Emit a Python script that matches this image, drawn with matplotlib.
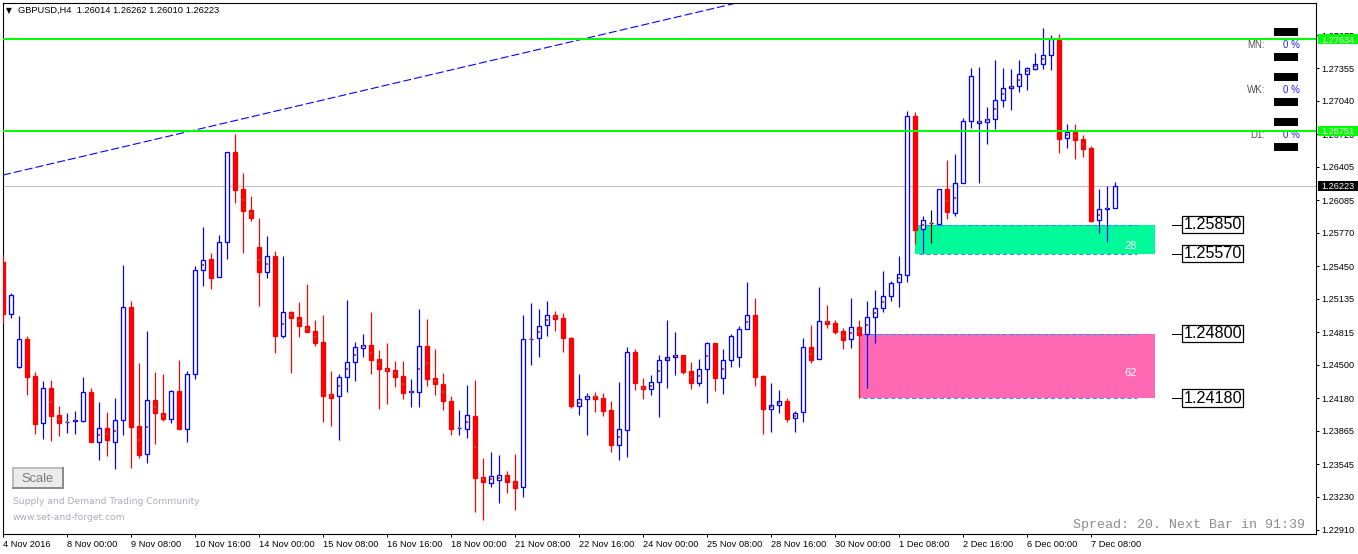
import numpy as np
import matplotlib
matplotlib.use("Agg")
import matplotlib.pyplot as plt
from matplotlib.patches import Rectangle
from matplotlib.transforms import blended_transform_factory

plt.rcParams['font.family'] = ['Liberation Sans', 'DejaVu Sans']
plt.rcParams['lines.scale_dashes'] = False

# GBPUSD H4 bars, 4 Nov 2016 16:00 .. 7 Dec 2016 16:00
opens = [1.25490, 1.24989, 1.24479, 1.24748, 1.24392, 1.23940, 1.24277, 1.24017, 1.23945, 1.23959,
         1.23959, 1.24238, 1.23757, 1.23892, 1.23757, 1.23969, 1.25057, 1.23911, 1.23641, 1.24161,
         1.24036, 1.23978, 1.24248, 1.23882, 1.24412, 1.25413, 1.25519, 1.25345, 1.25682, 1.26549,
         1.26192, 1.25990, 1.25634, 1.25393, 1.25547, 1.24777, 1.25008, 1.24960, 1.24874, 1.24825,
         1.24720, 1.24219, 1.24200, 1.24383, 1.24527, 1.24665, 1.24691, 1.24556, 1.24469, 1.24450,
         1.24392, 1.24238, 1.24238, 1.24681, 1.24373, 1.24315, 1.24152, 1.23887, 1.23882, 1.24007,
         1.23420, 1.23362, 1.23391, 1.23439, 1.23382, 1.23324, 1.24748, 1.24758, 1.24883, 1.24979,
         1.24951, 1.24758, 1.24103, 1.24171, 1.24200, 1.24180, 1.24065, 1.23728, 1.23872, 1.24623,
         1.24296, 1.24267, 1.24334, 1.24546, 1.24575, 1.24594, 1.24440, 1.24325, 1.24460, 1.24710,
         1.24373, 1.24546, 1.24575, 1.24845, 1.24979, 1.24392, 1.24075, 1.24113, 1.24152, 1.23988,
         1.24046, 1.24671, 1.24556, 1.24922, 1.24902, 1.24825, 1.24748, 1.24864, 1.24797, 1.24960,
         1.25047, 1.25162, 1.25297, 1.25365, 1.26895, 1.25807, 1.25865, 1.25856, 1.26192, 1.25961,
         1.26250, 1.26847, 1.26829, 1.26838, 1.26866, 1.27050, 1.27165, 1.27184, 1.27300, 1.27348,
         1.27396, 1.27483, 1.27627, 1.26683, 1.26741, 1.26674, 1.26587, 1.25894, 1.26000, 1.26014]
highs = [1.25557, 1.25191, 1.24970, 1.24777, 1.24431, 1.24344, 1.24354, 1.24103, 1.24036, 1.24055,
         1.24383, 1.24277, 1.24142, 1.24046, 1.24180, 1.25461, 1.25114, 1.24517, 1.24825, 1.24431,
         1.24412, 1.24257, 1.24546, 1.24440, 1.25451, 1.25827, 1.25576, 1.25750, 1.26549, 1.26722,
         1.26347, 1.26125, 1.25913, 1.25740, 1.25596, 1.25547, 1.25018, 1.25105, 1.25278, 1.24931,
         1.24979, 1.24440, 1.24412, 1.25124, 1.24720, 1.24797, 1.25008, 1.24643, 1.24710, 1.24537,
         1.24537, 1.24363, 1.25037, 1.24941, 1.24652, 1.24421, 1.24200, 1.24065, 1.24306, 1.24354,
         1.23603, 1.23661, 1.23632, 1.23478, 1.23641, 1.24979, 1.25095, 1.25037, 1.25114, 1.25018,
         1.24999, 1.24768, 1.24412, 1.24229, 1.24238, 1.24229, 1.24152, 1.24334, 1.24671, 1.24652,
         1.24373, 1.24402, 1.24594, 1.24931, 1.24816, 1.24594, 1.24527, 1.24556, 1.24720, 1.24710,
         1.24652, 1.24797, 1.24874, 1.25297, 1.25143, 1.24402, 1.24325, 1.24257, 1.24180, 1.24055,
         1.24758, 1.24883, 1.25249, 1.25076, 1.24931, 1.24854, 1.25143, 1.24931, 1.25114, 1.25220,
         1.25403, 1.25307, 1.25547, 1.26943, 1.26934, 1.25933, 1.25990, 1.26192, 1.26472, 1.26529,
         1.26876, 1.27357, 1.27367, 1.26982, 1.27434, 1.27357, 1.27348, 1.27434, 1.27367, 1.27502,
         1.27742, 1.27675, 1.27685, 1.26818, 1.26818, 1.26712, 1.26606, 1.26192, 1.26221, 1.26262]
lows = [1.24902, 1.24951, 1.24469, 1.24209, 1.23834, 1.23786, 1.23766, 1.23815, 1.23844, 1.23834,
        1.23949, 1.23757, 1.23584, 1.23622, 1.23497, 1.23824, 1.23507, 1.23603, 1.23555, 1.23738,
        1.23959, 1.23940, 1.23882, 1.23757, 1.24363, 1.25259, 1.25230, 1.25345, 1.25519, 1.26058,
        1.25576, 1.25884, 1.25066, 1.25336, 1.24614, 1.24758, 1.24421, 1.24768, 1.24816, 1.24681,
        1.23949, 1.23911, 1.23776, 1.24238, 1.24344, 1.24575, 1.24412, 1.24075, 1.24123, 1.24286,
        1.24171, 1.24094, 1.24094, 1.24296, 1.24209, 1.24065, 1.23824, 1.23824, 1.23795, 1.23083,
        1.23006, 1.23324, 1.23170, 1.23266, 1.23102, 1.23227, 1.24498, 1.24575, 1.24777, 1.24825,
        1.24623, 1.24084, 1.24017, 1.23824, 1.24046, 1.24007, 1.23661, 1.23584, 1.23612, 1.24257,
        1.24171, 1.24209, 1.23998, 1.24277, 1.24402, 1.24412, 1.24267, 1.24296, 1.24132, 1.24248,
        1.24219, 1.24479, 1.24479, 1.24845, 1.24296, 1.23834, 1.23853, 1.24036, 1.23949, 1.23853,
        1.23949, 1.24517, 1.24556, 1.24854, 1.24797, 1.24652, 1.24662, 1.24180, 1.24277, 1.24710,
        1.25008, 1.25114, 1.25057, 1.25297, 1.25663, 1.25576, 1.25673, 1.25850, 1.25904, 1.25933,
        1.26250, 1.26780, 1.26250, 1.26626, 1.26770, 1.26982, 1.26953, 1.27126, 1.27146, 1.27338,
        1.27348, 1.27338, 1.26539, 1.26587, 1.26481, 1.26501, 1.25875, 1.25769, 1.25682, 1.26010]
closes = [1.24989, 1.25172, 1.24748, 1.24383, 1.23930, 1.24277, 1.24007, 1.23940, 1.23954, 1.23969,
          1.24238, 1.23757, 1.23892, 1.23776, 1.23969, 1.25057, 1.23901, 1.23632, 1.24161, 1.24036,
          1.23978, 1.24248, 1.23882, 1.24412, 1.25413, 1.25509, 1.25336, 1.25682, 1.26549, 1.26183,
          1.25981, 1.25913, 1.25393, 1.25547, 1.24777, 1.25008, 1.24951, 1.24874, 1.24816, 1.24710,
          1.24200, 1.24180, 1.24383, 1.24527, 1.24671, 1.24691, 1.24546, 1.24460, 1.24440, 1.24383,
          1.24229, 1.24248, 1.24681, 1.24363, 1.24315, 1.24152, 1.23882, 1.23892, 1.24017, 1.23410,
          1.23372, 1.23430, 1.23439, 1.23372, 1.23314, 1.24748, 1.24753, 1.24874, 1.24979, 1.24941,
          1.24758, 1.24103, 1.24171, 1.24200, 1.24171, 1.24055, 1.23728, 1.23882, 1.24623, 1.24325,
          1.24267, 1.24334, 1.24546, 1.24575, 1.24594, 1.24431, 1.24325, 1.24460, 1.24710, 1.24373,
          1.24546, 1.24777, 1.24845, 1.24979, 1.24383, 1.24075, 1.24113, 1.24152, 1.23978, 1.24036,
          1.24671, 1.24546, 1.24922, 1.24893, 1.24816, 1.24739, 1.24864, 1.24787, 1.24960, 1.25047,
          1.25162, 1.25288, 1.25374, 1.26895, 1.25798, 1.25894, 1.25865, 1.26192, 1.25971, 1.26250,
          1.26847, 1.27280, 1.26847, 1.26866, 1.27050, 1.27165, 1.27184, 1.27300, 1.27357, 1.27396,
          1.27483, 1.27637, 1.26674, 1.26741, 1.26664, 1.26578, 1.25884, 1.26000, 1.26010, 1.26223]

# bars carrying the small brown mid-body marker
marked_bars = [6, 7, 8, 9, 12, 13, 14, 17, 18, 19, 20, 25, 30, 31, 32, 33, 35, 36, 37, 38, 39,
               41, 42, 43, 44, 45, 46, 47, 48, 49, 50, 51, 52, 53, 54, 55, 57, 58, 59, 60, 61,
               62, 63, 64, 66, 67, 68, 69, 72, 73, 74, 77, 80, 81, 82, 83, 84, 86, 87, 88, 90,
               93, 96, 97, 99, 101, 103, 105, 106, 107, 108, 109, 110, 112, 115, 116, 118, 119,
               122, 123, 124, 125, 126, 127, 128, 129, 130, 133, 134, 135, 137, 138]

x_tick_bars = list(range(0, 140, 8))
x_tick_labels = ["4 Nov 2016", "8 Nov 00:00", "9 Nov 08:00", "10 Nov 16:00", "14 Nov 00:00",
                 "15 Nov 08:00", "16 Nov 16:00", "18 Nov 00:00", "21 Nov 08:00", "22 Nov 16:00",
                 "24 Nov 00:00", "25 Nov 08:00", "28 Nov 16:00", "30 Nov 00:00", "1 Dec 08:00",
                 "2 Dec 16:00", "6 Dec 00:00", "7 Dec 08:00"]
y_ticks = [1.27675, 1.27355, 1.27040, 1.26720, 1.26405, 1.26085, 1.25770, 1.25450, 1.25135,
           1.24815, 1.24500, 1.24180, 1.23865, 1.23545, 1.23230, 1.22910]

level_prices = [1.27634, 1.26751]
last_price = 1.26223
trend_bars = [0, 100]
trend_prices = [1.26327, 1.28133]

zone_start = [114, 107]
zone_end = [144, 144]
zone_low = [1.25570, 1.24180]
zone_high = [1.25850, 1.24800]
zone_pips = ["28", "62"]
zone_colors = ["#00FA9A", "#FF69B4"]

header = "GBPUSD,H4  1.26014 1.26262 1.26010 1.26223"

W, H = 1358, 554
AX_L, AX_R, AX_T, AX_B = 2.5, 1315.5, 2.5, 533.5
PX = 0.72  # one pixel in points


def frac(x, y):
    # image pixel -> axes fraction (for decorations only)
    return (x - AX_L) / (AX_R - AX_L), (AX_B - y) / (AX_B - AX_T)


fig = plt.figure(figsize=(W / 100, H / 100), dpi=100)
ax = fig.add_axes([AX_L / W, 1 - AX_B / H, (AX_R - AX_L) / W, (AX_B - AX_T) / H])
ax.set_xlim(-0.0625, 164.06)
ax.set_ylim(1.22876, 1.27988)

o, h, l, c = map(np.array, (opens, highs, lows, closes))
idx = np.arange(len(o))
up = c > o
down = c < o
flat = c == o

# zones
for s, e, lo, hi, txt, col in zip(zone_start, zone_end, zone_low, zone_high, zone_pips, zone_colors):
    ax.fill_between([s, e], lo, hi, color=col, lw=0, zorder=1)
    for p in (lo, hi):
        ax.plot([s + 0.5, 141.8], [p, p], color="#1E90FF", lw=PX, ls=(0, (3, 2)), zorder=2)
    ax.text(141, lo + (hi - lo) * (0.28 if txt == "28" else 0.39), txt, color="white",
            fontsize=8, ha="center", va="center", zorder=2)
    for p in (lo, hi):
        ax.plot([146.1, 147.4], [p, p], color="black", lw=PX, clip_on=False, zorder=6)
        ax.text(147.55, p, f"{p:.5f}", fontsize=11.6, ha="left", va="center", zorder=6,
                clip_on=False,
                bbox=dict(boxstyle="square,pad=0.08", fc="white", ec="black", lw=0.9))

# lines
ax.axhline(last_price, color="#C0C0C0", lw=1.1 * PX, zorder=1.5)
ax.plot(trend_bars, trend_prices, color="#0000FF", lw=1.1 * PX, ls=(0, (5.8, 2.2)), zorder=2)

# candles
wick_cols = np.where(up, "#0000FF", np.where(down, "#FF0000", "#000000"))
ax.vlines(idx, l, h, colors=wick_cols, lw=1.2 * PX, zorder=3)
body_lo = np.minimum(o, c)
body_h = np.abs(c - o)
ax.bar(idx[up], body_h[up], bottom=body_lo[up], width=0.5, facecolor="white",
       edgecolor="#0000FF", lw=1.3 * PX, zorder=4)
ax.bar(idx[down], body_h[down], bottom=body_lo[down], width=0.5, facecolor="#FF0000",
       edgecolor="#FF0000", lw=1.3 * PX, zorder=4)
ax.hlines(o[flat], idx[flat] - 0.3, idx[flat] + 0.3, colors="black", lw=1.3 * PX, zorder=4)
mid = (o + c) / 2
ax.scatter(idx[marked_bars], mid[marked_bars], marker="s", s=3, color="#A8553C", lw=0, zorder=5)

for p in level_prices:
    ax.axhline(p, color="#00FF00", lw=2 * PX, zorder=7)

# axes styling
for sp in ax.spines.values():
    sp.set_linewidth(1.1 * PX)
    sp.set_color("black")
ax.set_xticks(x_tick_bars)
ax.set_xticklabels(x_tick_labels, ha="left")
ax.tick_params(axis="x", direction="out", length=2.2, width=PX, pad=2.5, labelsize=6.7)
ax.yaxis.tick_right()
ax.set_yticks(y_ticks)
ax.set_yticklabels([f"{v:.5f}" for v in y_ticks])
ax.tick_params(axis="y", direction="out", length=2.2, width=PX, pad=1.8, labelsize=6.6)

# price tags on the axis
tr = blended_transform_factory(ax.transAxes, ax.transData)
x0, _ = frac(1317.7, 0)
x1, _ = frac(1358, 0)
xt, _ = frac(1321, 0)
for p, fc in [(level_prices[0], "#00FF00"), (level_prices[1], "#00FF00"), (last_price, "black")]:
    ax.add_patch(Rectangle((x0, p - 0.0005), x1 - x0, 0.001, transform=tr, fc=fc, ec="none",
                           clip_on=False, zorder=8))
    ax.text(xt, p, f"{p:.5f}", transform=tr, color="white", fontsize=6.6, ha="left",
            va="center_baseline", clip_on=False, zorder=9)

# header
ax.text(*frac(6, 10.5), "\u25bc", transform=ax.transAxes, fontsize=5.5, family="DejaVu Sans",
        ha="left", va="center")
ax.text(*frac(18, 10.5), header, transform=ax.transAxes, fontsize=6.7, ha="left", va="center")

# MN / WK / D1 panel
bx0, _ = frac(1274, 0)
bx1, _ = frac(1298, 0)
for yc in (32, 57, 77, 102, 122, 147):
    _, yb = frac(0, yc + 3.7)
    _, yt = frac(0, yc - 3.7)
    ax.add_patch(Rectangle((bx0, yb), bx1 - bx0, yt - yb, transform=ax.transAxes, fc="black",
                           ec="none", zorder=6))
for name, yc in (("MN:", 45), ("WK:", 90), ("D1:", 135)):
    ax.text(*frac(1265, yc), name, transform=ax.transAxes, fontsize=7, color="#505050",
            ha="right", va="center", zorder=6)
    ax.text(*frac(1299.5, yc), "0 %", transform=ax.transAxes, fontsize=7, color="#2020FF",
            ha="right", va="center", zorder=6)

# Scale button
bl, bb = frac(12.7, 488)
br, bt = frac(62.7, 468)
ax.add_patch(Rectangle((bl, bb), br - bl, bt - bb, transform=ax.transAxes, fc="#EBEBEB",
                       ec="#BDBDBD", lw=1.4, zorder=6))
ax.plot([bl, br, br], [bb, bb, bt], transform=ax.transAxes, color="#8A8A8A", lw=1.4, zorder=6)
ax.text(*frac(37.7, 478.5), "Scale", transform=ax.transAxes, fontsize=9.3, color="#7A7A7A",
        ha="center", va="center", zorder=7)

ax.text(*frac(12.7, 501), "Supply and Demand Trading Community", transform=ax.transAxes,
        fontsize=6.6, family="DejaVu Sans", color="#ABABBA", ha="left", va="center")
ax.text(*frac(12.7, 517), "www.set-and-forget.com", transform=ax.transAxes,
        fontsize=6.6, family="DejaVu Sans", color="#ABABBA", ha="left", va="center")
ax.text(*frac(1305, 525), "Spread: 20. Next Bar in 91:39", transform=ax.transAxes,
        fontsize=9.6, family="Liberation Mono", color="#8C8C8C", ha="right", va="center")

fig.savefig("out.png", dpi=100, facecolor="white")
